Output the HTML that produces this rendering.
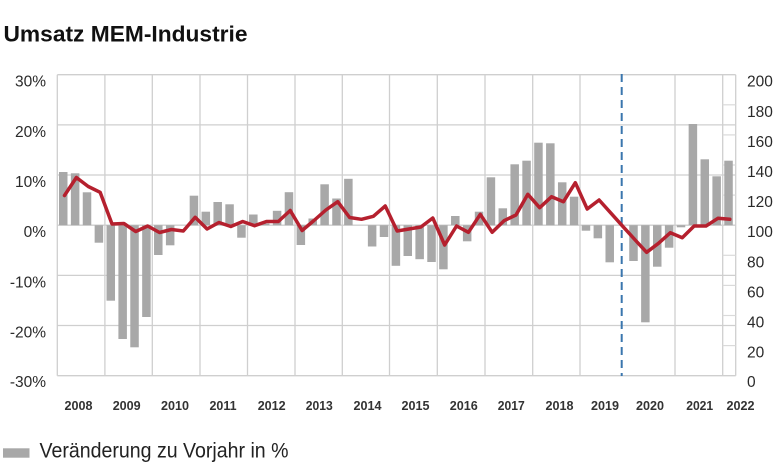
<!DOCTYPE html>
<html><head><meta charset="utf-8"><style>
html,body{margin:0;padding:0;background:#fff;}
svg{display:block;}
text{font-family:"Liberation Sans",sans-serif;}
</style></head><body>
<svg width="780" height="465" viewBox="0 0 780 465" xmlns="http://www.w3.org/2000/svg">
<rect width="780" height="465" fill="#fff"/>
<text x="3.5" y="41.7" font-size="22" font-weight="bold" fill="#111" textLength="244" lengthAdjust="spacingAndGlyphs">Umsatz MEM-Industrie</text>
<g stroke="#cfcfcf" stroke-width="1.3" fill="none">
<line x1="57.3" y1="74.7" x2="735.7" y2="74.7"/>
<line x1="57.3" y1="124.9" x2="735.7" y2="124.9"/>
<line x1="57.3" y1="175" x2="735.7" y2="175"/>
<line x1="57.3" y1="225.2" x2="735.7" y2="225.2"/>
<line x1="57.3" y1="275.4" x2="735.7" y2="275.4"/>
<line x1="57.3" y1="325.5" x2="735.7" y2="325.5"/>
<line x1="57.3" y1="375.7" x2="735.7" y2="375.7"/>
<line x1="57.3" y1="74.7" x2="57.3" y2="375.7"/>
<line x1="104.9" y1="74.7" x2="104.9" y2="375.7"/>
<line x1="152.3" y1="74.7" x2="152.3" y2="375.7"/>
<line x1="200" y1="74.7" x2="200" y2="375.7"/>
<line x1="247.5" y1="74.7" x2="247.5" y2="375.7"/>
<line x1="295" y1="74.7" x2="295" y2="375.7"/>
<line x1="342.3" y1="74.7" x2="342.3" y2="375.7"/>
<line x1="389.5" y1="74.7" x2="389.5" y2="375.7"/>
<line x1="437.3" y1="74.7" x2="437.3" y2="375.7"/>
<line x1="485" y1="74.7" x2="485" y2="375.7"/>
<line x1="532.7" y1="74.7" x2="532.7" y2="375.7"/>
<line x1="580" y1="74.7" x2="580" y2="375.7"/>
<line x1="675" y1="74.7" x2="675" y2="375.7"/>
<line x1="722.7" y1="74.7" x2="722.7" y2="375.7"/>
<line x1="735.7" y1="74.7" x2="735.7" y2="375.7"/>
</g>
<g stroke="#dadada" stroke-width="1.2">
<line x1="722.7" y1="104.8" x2="735.7" y2="104.8"/>
<line x1="722.7" y1="134.9" x2="735.7" y2="134.9"/>
<line x1="722.7" y1="165" x2="735.7" y2="165"/>
<line x1="722.7" y1="195.1" x2="735.7" y2="195.1"/>
<line x1="722.7" y1="255.3" x2="735.7" y2="255.3"/>
<line x1="722.7" y1="285.4" x2="735.7" y2="285.4"/>
<line x1="722.7" y1="315.5" x2="735.7" y2="315.5"/>
<line x1="722.7" y1="345.6" x2="735.7" y2="345.6"/>
</g>
<g fill="#a8a8a8">
<rect x="59" y="172" width="8.5" height="53.2"/>
<rect x="70.88" y="173.3" width="8.5" height="51.9"/>
<rect x="82.76" y="192.3" width="8.5" height="32.9"/>
<rect x="94.64" y="225.2" width="8.5" height="17.5"/>
<rect x="106.52" y="225.2" width="8.5" height="75.5"/>
<rect x="118.4" y="225.2" width="8.5" height="113.8"/>
<rect x="130.28" y="225.2" width="8.5" height="122.1"/>
<rect x="142.16" y="225.2" width="8.5" height="91.8"/>
<rect x="154.04" y="225.2" width="8.5" height="29.8"/>
<rect x="165.92" y="225.2" width="8.5" height="20.1"/>
<rect x="189.68" y="195.7" width="8.5" height="29.5"/>
<rect x="201.56" y="211.7" width="8.5" height="13.5"/>
<rect x="213.44" y="202" width="8.5" height="23.2"/>
<rect x="225.32" y="204.3" width="8.5" height="20.9"/>
<rect x="237.2" y="225.2" width="8.5" height="12.5"/>
<rect x="249.08" y="214.5" width="8.5" height="10.7"/>
<rect x="260.96" y="223.5" width="8.5" height="1.7"/>
<rect x="272.84" y="210.8" width="8.5" height="14.4"/>
<rect x="284.72" y="192.2" width="8.5" height="33"/>
<rect x="296.6" y="225.2" width="8.5" height="19.8"/>
<rect x="308.48" y="218.5" width="8.5" height="6.7"/>
<rect x="320.36" y="184.3" width="8.5" height="40.9"/>
<rect x="332.24" y="198.5" width="8.5" height="26.7"/>
<rect x="344.12" y="178.8" width="8.5" height="46.4"/>
<rect x="367.88" y="225.2" width="8.5" height="21.3"/>
<rect x="379.76" y="225.2" width="8.5" height="11.8"/>
<rect x="391.64" y="225.2" width="8.5" height="40.6"/>
<rect x="403.52" y="225.2" width="8.5" height="30.8"/>
<rect x="415.4" y="225.2" width="8.5" height="34"/>
<rect x="427.28" y="225.2" width="8.5" height="36.8"/>
<rect x="439.16" y="225.2" width="8.5" height="44.1"/>
<rect x="451.04" y="216" width="8.5" height="9.2"/>
<rect x="462.92" y="225.2" width="8.5" height="16.1"/>
<rect x="474.8" y="211.7" width="8.5" height="13.5"/>
<rect x="486.68" y="177.3" width="8.5" height="47.9"/>
<rect x="498.56" y="208.3" width="8.5" height="16.9"/>
<rect x="510.44" y="164.3" width="8.5" height="60.9"/>
<rect x="522.32" y="160.7" width="8.5" height="64.5"/>
<rect x="534.2" y="142.7" width="8.5" height="82.5"/>
<rect x="546.08" y="143.3" width="8.5" height="81.9"/>
<rect x="557.96" y="182.3" width="8.5" height="42.9"/>
<rect x="569.84" y="196.7" width="8.5" height="28.5"/>
<rect x="581.72" y="225.2" width="8.5" height="5.5"/>
<rect x="593.6" y="225.2" width="8.5" height="13.1"/>
<rect x="605.48" y="225.2" width="8.5" height="37.1"/>
<rect x="629.24" y="225.2" width="8.5" height="35.8"/>
<rect x="641.12" y="225.2" width="8.5" height="97.1"/>
<rect x="653" y="225.2" width="8.5" height="41.5"/>
<rect x="664.88" y="225.2" width="8.5" height="22.5"/>
<rect x="676.76" y="225.2" width="8.5" height="2.1"/>
<rect x="688.64" y="124" width="8.5" height="101.2"/>
<rect x="700.52" y="159.3" width="8.5" height="65.9"/>
<rect x="712.4" y="176.3" width="8.5" height="48.9"/>
<rect x="724.28" y="160.7" width="8.5" height="64.5"/>
</g>
<line x1="621.7" y1="74" x2="621.7" y2="376" stroke="#3a76ae" stroke-width="2" stroke-dasharray="8 5"/>
<polyline fill="none" stroke="#b5202e" stroke-width="3.5" stroke-linejoin="round" stroke-linecap="round" points="64.5,195.5 76.38,177.5 88.26,186.5 100.14,192.3 112.02,224 123.9,223.5 135.78,231.5 147.66,226 159.54,232.5 171.42,229.5 183.3,231 195.18,217.3 207.06,229 218.94,222.5 230.82,226.5 242.7,221.5 254.58,225.7 266.46,221.5 278.34,221.5 290.22,210.5 302.1,230.5 313.98,220.5 325.86,210 337.74,201.7 349.62,217.5 361.5,219.3 373.38,216.3 385.26,206 397.14,231 409.02,229 420.9,227 432.78,218 444.66,245 456.54,226 468.42,232.3 480.3,214.3 492.18,232.3 504.06,220.7 515.94,215 527.82,194.3 539.7,207.7 551.58,196.7 563.46,201.7 575.34,182.7 587.22,209 599.1,200 610.98,213.2 622.86,226.4 634.74,239.5 646.62,252.3 658.5,243.3 670.38,232.7 682.26,237.7 694.14,226 706.02,226 717.9,218.3 729.78,219.3"/>
<g font-size="15.5" fill="#2a2a2a" text-anchor="end">
<text x="46" y="86.7">30%</text>
<text x="46" y="136.9">20%</text>
<text x="46" y="187">10%</text>
<text x="46" y="237.2">0%</text>
<text x="46" y="287.4">-10%</text>
<text x="46" y="337.5">-20%</text>
<text x="46" y="387.2">-30%</text>
</g>
<g font-size="15.5" fill="#2a2a2a">
<text x="747" y="86.7">200</text>
<text x="747" y="116.8">180</text>
<text x="747" y="146.9">160</text>
<text x="747" y="177">140</text>
<text x="747" y="207.1">120</text>
<text x="747" y="237.2">100</text>
<text x="747" y="267.3">80</text>
<text x="747" y="297.4">60</text>
<text x="747" y="327.5">40</text>
<text x="747" y="357.6">20</text>
<text x="747" y="387.2">0</text>
</g>
<g font-size="13" font-weight="bold" fill="#333" text-anchor="middle">
<text x="78.5" y="410" textLength="28" lengthAdjust="spacingAndGlyphs">2008</text>
<text x="126.7" y="410" textLength="28" lengthAdjust="spacingAndGlyphs">2009</text>
<text x="175" y="410" textLength="28" lengthAdjust="spacingAndGlyphs">2010</text>
<text x="223" y="410" textLength="27" lengthAdjust="spacingAndGlyphs">2011</text>
<text x="271.7" y="410" textLength="28" lengthAdjust="spacingAndGlyphs">2012</text>
<text x="319.3" y="410" textLength="27" lengthAdjust="spacingAndGlyphs">2013</text>
<text x="367.5" y="410" textLength="28" lengthAdjust="spacingAndGlyphs">2014</text>
<text x="415.5" y="410" textLength="28" lengthAdjust="spacingAndGlyphs">2015</text>
<text x="463.8" y="410" textLength="28" lengthAdjust="spacingAndGlyphs">2016</text>
<text x="511.3" y="410" textLength="27" lengthAdjust="spacingAndGlyphs">2017</text>
<text x="559.5" y="410" textLength="28" lengthAdjust="spacingAndGlyphs">2018</text>
<text x="605" y="410" textLength="28" lengthAdjust="spacingAndGlyphs">2019</text>
<text x="650" y="410" textLength="28" lengthAdjust="spacingAndGlyphs">2020</text>
<text x="699.7" y="410" textLength="27" lengthAdjust="spacingAndGlyphs">2021</text>
<text x="740.5" y="410" textLength="28" lengthAdjust="spacingAndGlyphs">2022</text>
</g>
<rect x="3" y="448.3" width="26.5" height="9.4" fill="#a8a8a8"/>
<text x="39.5" y="457.3" font-size="21.5" fill="#222" textLength="249" lengthAdjust="spacingAndGlyphs">Veränderung zu Vorjahr in %</text>
</svg>
</body></html>
